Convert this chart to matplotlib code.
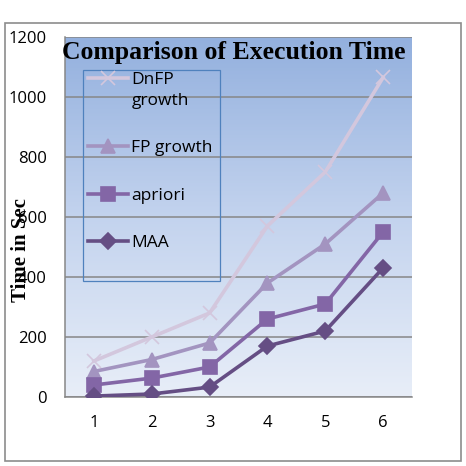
import numpy as np
import matplotlib
matplotlib.use("Agg")
import matplotlib.pyplot as plt
from matplotlib.patches import Rectangle
from matplotlib.legend_handler import HandlerLine2D

# data
categories = [1, 2, 3, 4, 5, 6]
dnfp_growth = [120, 200, 280, 570, 750, 1065]
fp_growth = [85, 125, 180, 380, 510, 680]
apriori = [40, 63, 100, 260, 310, 550]
maa = [3, 10, 33, 170, 220, 430]
y_ticks = [0, 200, 400, 600, 800, 1000, 1200]

series = [
    ("DnFP\ngrowth", dnfp_growth, "#d3c7dd", "x"),
    ("FP growth", fp_growth, "#a394c0", "^"),
    ("apriori", apriori, "#8366a6", "s"),
    ("MAA", maa, "#654e84", "D"),
]


class TopLineHandler(HandlerLine2D):
    # puts the handle next to the first line of a two-line label
    def create_artists(self, legend, orig_handle, xdescent, ydescent,
                       width, height, fontsize, trans):
        return super().create_artists(legend, orig_handle, xdescent,
                                      ydescent - 18, width, height,
                                      fontsize, trans)


fig = plt.figure(figsize=(4.66, 4.66), dpi=100)
ax = fig.add_axes([65 / 466, 1 - 397 / 466, 347 / 466, 360 / 466])

# outer chart frame
fig.patches.append(Rectangle((5 / 466, 5 / 466), 456 / 466, 438 / 466,
                             transform=fig.transFigure, fill=False,
                             edgecolor="#8c8c8c", linewidth=1.2))

# gradient background of the plot area
grad = np.linspace(0, 1, 256).reshape(-1, 1)
cmap = matplotlib.colors.LinearSegmentedColormap.from_list(
    "bg", ["#e8eef8", "#c3d3ee", "#93b0de"])
ax.imshow(grad, extent=[0, 1, 0, 1], transform=ax.transAxes, cmap=cmap,
          origin="lower", aspect="auto", zorder=0)

lines = []
for label, vals, color, mk in series:
    ln, = ax.plot(categories, vals, color=color, linewidth=2.6, marker=mk,
                  markersize=10 if mk != "D" else 8.5, markeredgewidth=1.2,
                  label=label, zorder=3)
    lines.append(ln)

ax.set_xlim(0.5, 6.5)
ax.set_ylim(0, 1200)
ax.set_yticks(y_ticks)
ax.set_xticks(categories)
ax.yaxis.grid(True, color="#878787", linewidth=1.1, zorder=1)
ax.set_axisbelow(True)
for s in ["top", "right"]:
    ax.spines[s].set_visible(False)
for s in ["left", "bottom"]:
    ax.spines[s].set_color("#878787")
    ax.spines[s].set_linewidth(1.1)
ax.tick_params(length=0, labelsize=12, colors="black")
ax.tick_params(axis="y", pad=13)
ax.tick_params(axis="x", pad=13)
for t in ax.get_xticklabels() + ax.get_yticklabels():
    t.set_family("Open Sans")

ax.text(0.485, 0.956, "Comparison of Execution Time", transform=ax.transAxes,
        ha="center", va="center", fontsize=18.5, fontweight="bold",
        family="Liberation Serif", zorder=5)
fig.text(21 / 466, 1 - 250 / 466, "Time in Sec", rotation=90, ha="center",
         va="center", fontsize=15, fontweight="bold", family="Liberation Serif")

leg = ax.legend(loc="upper left", bbox_to_anchor=(0.066, 0.902),
                frameon=False, handlelength=2.3, borderaxespad=0,
                borderpad=0, labelspacing=1.8, handletextpad=0.2,
                handler_map={lines[0]: TopLineHandler()},
                prop={"family": "Open Sans", "size": 12.5})
leg.get_texts()[0].set_linespacing(1.4)
leg.set_zorder(6)
# legend box as drawn in the reference
ax.add_patch(Rectangle((18 / 347, 116 / 360), 137 / 347, 211 / 360,
                       transform=ax.transAxes, fill=False,
                       edgecolor="#4f81bd", linewidth=0.9, zorder=6))

fig.savefig("out.png", dpi=100)
